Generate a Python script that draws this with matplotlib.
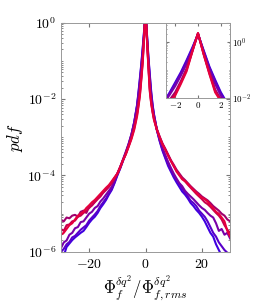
import matplotlib
matplotlib.use("Agg")
import matplotlib.pyplot as plt
import numpy as np
from matplotlib.ticker import FixedLocator, LogLocator, FuncFormatter, NullFormatter

plt.rcParams['mathtext.fontset'] = 'cm'
plt.rcParams['font.family'] = 'serif'

# x grid (normalised fluctuation)
x = [-30, -29, -28, -27, -26, -25, -24, -23, -22, -21, -20, -19, -18, -17, -16,
     -15, -14, -13, -12, -11, -10, -9, -8, -7, -6, -5, -4, -3, -2.5, -2, -1.5,
     -1, -0.5, 0, 0.5, 1, 1.5, 2, 2.5, 3, 4, 5, 6, 7, 8, 9, 10, 11, 12, 13, 14,
     15, 16, 17, 18, 19, 20, 21, 22, 23, 24, 25, 26, 27, 28, 29, 30]

# log10(pdf), blue -> red
logp0 = [-6.05, -6.1, -5.87, -5.78, -5.69, -5.62, -5.56, -5.5, -5.45, -5.35, -5.24,
         -5.15, -5.08, -4.98, -4.85, -4.75, -4.64, -4.5, -4.38, -4.2, -4.0, -3.82,
         -3.62, -3.42, -3.2, -2.95, -2.6, -2.15, -1.82, -1.45, -1.08, -0.65, -0.2,
         0.28, -0.3, -0.88, -1.35, -1.8, -2.15, -2.4, -2.8, -3.1, -3.35, -3.55,
         -3.75, -3.9, -4.05, -4.18, -4.3, -4.42, -4.5, -4.6, -4.72, -4.8, -4.9,
         -4.98, -5.08, -5.2, -5.35, -5.5, -5.6, -5.8, -5.95, -6.1, -6.2, -6.3, -6.4]
logp1 = [-6.0, -5.92, -5.8, -5.74, -5.62, -5.58, -5.5, -5.42, -5.36, -5.3, -5.18,
         -5.1, -5.02, -4.93, -4.8, -4.7, -4.6, -4.47, -4.35, -4.18, -3.98, -3.8,
         -3.6, -3.4, -3.18, -2.93, -2.6, -2.17, -1.85, -1.5, -1.12, -0.7, -0.24,
         0.29, -0.33, -0.92, -1.4, -1.85, -2.18, -2.42, -2.8, -3.08, -3.32, -3.52,
         -3.7, -3.86, -4.0, -4.12, -4.22, -4.34, -4.45, -4.55, -4.66, -4.72, -4.8,
         -4.92, -5.0, -5.08, -5.2, -5.35, -5.5, -5.6, -5.75, -5.85, -5.95, -6.02, -6.1]
logp2 = [-5.9, -5.75, -5.7, -5.55, -5.5, -5.38, -5.35, -5.22, -5.2, -5.1, -5.0,
         -4.95, -4.85, -4.8, -4.68, -4.6, -4.5, -4.4, -4.3, -4.12, -3.95, -3.78,
         -3.58, -3.38, -3.17, -2.92, -2.62, -2.2, -1.9, -1.58, -1.2, -0.78, -0.28,
         0.3, -0.37, -0.98, -1.5, -1.92, -2.22, -2.45, -2.8, -3.05, -3.28, -3.46,
         -3.64, -3.8, -3.95, -4.08, -4.2, -4.28, -4.4, -4.48, -4.55, -4.62, -4.7,
         -4.78, -4.85, -4.9, -4.98, -5.05, -5.1, -5.25, -5.45, -5.4, -5.55, -5.5, -5.65]
logp3 = [-5.16, -5.2, -5.1, -5.12, -5.05, -5.03, -5.08, -4.95, -4.92, -4.98, -4.82,
         -4.78, -4.68, -4.6, -4.52, -4.44, -4.35, -4.28, -4.18, -4.06, -3.95, -3.78,
         -3.6, -3.42, -3.22, -3.0, -2.72, -2.35, -2.08, -1.8, -1.4, -0.95, -0.33,
         0.31, -0.42, -1.08, -1.7, -2.05, -2.3, -2.5, -2.78, -2.98, -3.16, -3.3,
         -3.45, -3.6, -3.72, -3.85, -3.95, -4.05, -4.12, -4.2, -4.28, -4.35, -4.42,
         -4.48, -4.55, -4.6, -4.65, -4.72, -4.8, -4.86, -4.92, -5.0, -5.05, -5.15, -5.2]
logp4 = [-5.4, -5.45, -5.3, -5.28, -5.2, -5.18, -5.08, -5.05, -4.98, -4.92, -4.85,
         -4.78, -4.7, -4.62, -4.55, -4.45, -4.38, -4.3, -4.2, -4.08, -3.96, -3.8,
         -3.6, -3.44, -3.24, -3.02, -2.76, -2.4, -2.15, -1.88, -1.45, -1.0, -0.34,
         0.32, -0.44, -1.12, -1.75, -2.1, -2.33, -2.53, -2.8, -3.0, -3.18, -3.32,
         -3.47, -3.62, -3.76, -3.88, -3.98, -4.08, -4.15, -4.24, -4.32, -4.4, -4.48,
         -4.55, -4.62, -4.7, -4.75, -4.82, -4.9, -4.98, -5.05, -5.15, -5.3, -5.42, -5.5]
logp5 = [-5.55, -5.5, -5.4, -5.3, -5.25, -5.15, -5.05, -5.0, -4.95, -4.85, -4.78,
         -4.7, -4.64, -4.56, -4.48, -4.4, -4.32, -4.25, -4.15, -4.05, -3.95, -3.78,
         -3.6, -3.45, -3.25, -3.05, -2.8, -2.45, -2.2, -1.92, -1.5, -1.05, -0.35,
         0.32, -0.45, -1.15, -1.8, -2.12, -2.35, -2.55, -2.8, -3.0, -3.18, -3.32,
         -3.48, -3.62, -3.75, -3.9, -4.0, -4.1, -4.15, -4.22, -4.3, -4.38, -4.45,
         -4.52, -4.58, -4.62, -4.68, -4.78, -4.85, -4.95, -5.0, -5.1, -5.2, -5.45, -5.6]

curves = [logp0, logp1, logp2, logp3, logp4, logp5]
colors = ['#3f00e0', '#5800ca', '#7800a8', '#a0006e', '#c8004f', '#e6003c']

xticks_main = [-20, 0, 20]
yticks_main = [1e-6, 1e-4, 1e-2, 1e0]
xticks_inset = [-2, 0, 2]
yticks_inset = [1e-2, 1e0]

F = plt.figure(figsize=(2.54, 3.05), dpi=100)
ax = F.add_axes([0.240, 0.174, 0.666, 0.752])
axi = F.add_axes([0.6535, 0.679, 0.252, 0.247])

for a in (ax, axi):
    for lp, c in zip(curves, colors):
        a.plot(x, 10.0 ** np.array(lp), color=c, lw=1.5)
    a.set_yscale('log')
    for s in a.spines.values():
        s.set_color('#999999')
        s.set_linewidth(0.7)
    a.yaxis.set_minor_locator(LogLocator(base=10, subs=np.arange(1, 10), numticks=50))
    a.yaxis.set_minor_formatter(NullFormatter())
    a.tick_params(which='both', direction='in', top=True, right=True, color='#777777')

fmt = FuncFormatter(lambda v, p: r'$%g$' % v)
logfmt = FuncFormatter(lambda v, p: r'$10^{%d}$' % round(np.log10(v)))

ax.set_xlim(-30, 30)
ax.set_ylim(1e-6, 1)
ax.xaxis.set_major_locator(FixedLocator(xticks_main))
ax.yaxis.set_major_locator(FixedLocator(yticks_main))
ax.xaxis.set_major_formatter(fmt)
ax.yaxis.set_major_formatter(logfmt)
ax.tick_params(which='major', labelsize=10, length=3)
ax.tick_params(which='minor', length=1.5)
ax.set_xlabel(r'$\Phi_f^{\delta q^2}/\Phi_{f,rms}^{\delta q^2}$', fontsize=12, labelpad=2)
ax.set_ylabel(r'$pdf$', fontsize=12, labelpad=2)

axi.set_xlim(-2.8, 2.8)
axi.set_ylim(1e-2, 5)
axi.xaxis.set_major_locator(FixedLocator(xticks_inset))
axi.yaxis.set_major_locator(FixedLocator(yticks_inset))
axi.xaxis.set_major_formatter(fmt)
axi.yaxis.set_major_formatter(logfmt)
axi.yaxis.tick_right()
axi.tick_params(which='both', left=True, right=True)
axi.tick_params(which='major', labelsize=6.5, length=2, pad=1.5, labelleft=False, labelright=True)
axi.tick_params(which='minor', length=1)

F.savefig("out.png", dpi=100)
